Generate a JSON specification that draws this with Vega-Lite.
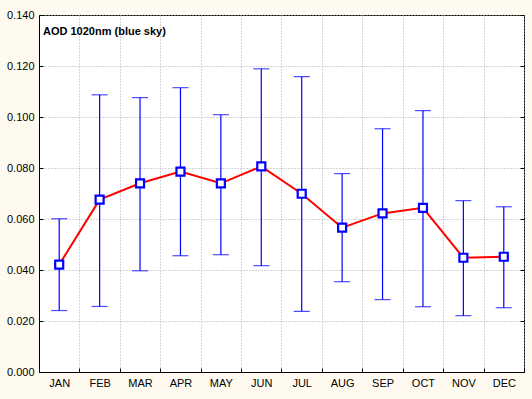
{
  "$schema": "https://vega.github.io/schema/vega-lite/v6.json",
  "width": 485,
  "height": 357,
  "autosize": "none",
  "padding": {"left": 39, "top": 15, "right": 8, "bottom": 27},
  "background": "#FFFAF0",
  "config": {
    "view": {"stroke": "#000000", "strokeWidth": 1, "fill": "#ffffff"},
    "font": "Liberation Sans"
  },
  "title": {
    "text": "AOD 1020nm (blue sky)",
    "anchor": "start",
    "orient": "top",
    "frame": "group",
    "offset": -28,
    "dx": 4,
    "fontSize": 11,
    "font": "Liberation Sans",
    "fontWeight": "bold",
    "color": "#000000"
  },
  "data": {
    "values": [
      {"month": "JAN", "mean": 0.0421, "lo": 0.0241, "hi": 0.0601},
      {"month": "FEB", "mean": 0.0676, "lo": 0.0257, "hi": 0.1087},
      {"month": "MAR", "mean": 0.0740, "lo": 0.0397, "hi": 0.1076},
      {"month": "APR", "mean": 0.0786, "lo": 0.0456, "hi": 0.1115},
      {"month": "MAY", "mean": 0.0740, "lo": 0.0460, "hi": 0.1009},
      {"month": "JUN", "mean": 0.0806, "lo": 0.0417, "hi": 0.1189},
      {"month": "JUL", "mean": 0.0699, "lo": 0.0238, "hi": 0.1158},
      {"month": "AUG", "mean": 0.0566, "lo": 0.0354, "hi": 0.0778},
      {"month": "SEP", "mean": 0.0622, "lo": 0.0284, "hi": 0.0954},
      {"month": "OCT", "mean": 0.0644, "lo": 0.0256, "hi": 0.1025},
      {"month": "NOV", "mean": 0.0448, "lo": 0.0221, "hi": 0.0672},
      {"month": "DEC", "mean": 0.0452, "lo": 0.0252, "hi": 0.0648}
    ]
  },
  "encoding": {
    "x": {
      "field": "month",
      "type": "ordinal",
      "sort": null,
      "scale": {"type": "band", "paddingInner": 0, "paddingOuter": 0},
      "axis": {
        "title": null,
        "labelAngle": 0,
        "labelFontSize": 11,
        "labelColor": "#000000",
        "labelPadding": 9,
        "tickBand": "extent",
        "ticks": true,
        "tickSize": -4,
        "tickColor": "#000000",
        "domain": true,
        "domainColor": "#000000",
        "grid": true,
        "gridColor": "#aaaaaa",
        "gridDash": [1, 2],
        "gridWidth": 1
      }
    }
  },
  "layer": [
    {
      "mark": {"type": "rule", "color": "#0000ff", "strokeWidth": 1.2},
      "encoding": {
        "y": {
          "field": "lo",
          "type": "quantitative",
          "scale": {"domain": [0, 0.14], "nice": false, "zero": true},
          "axis": {
            "orient": "right",
            "title": null,
            "labels": false,
            "grid": false,
            "domain": false,
            "values": [0, 0.02, 0.04, 0.06, 0.08, 0.1, 0.12, 0.14],
            "tickSize": -4,
            "tickColor": "#000000"
          }
        },
        "y2": {"field": "hi"}
      }
    },
    {
      "mark": {"type": "tick", "color": "#0000ff", "size": 16, "thickness": 1.2, "orient": "horizontal"},
      "encoding": {"y": {"field": "lo", "type": "quantitative", "axis": null}}
    },
    {
      "mark": {"type": "tick", "color": "#0000ff", "size": 16, "thickness": 1.2, "orient": "horizontal"},
      "encoding": {"y": {"field": "hi", "type": "quantitative", "axis": null}}
    },
    {
      "mark": {"type": "line", "color": "#ff0000", "strokeWidth": 2},
      "encoding": {"y": {"field": "mean", "type": "quantitative", "axis": null}}
    },
    {
      "mark": {"type": "point", "shape": "square", "size": 64, "filled": true, "fill": "#ffffff", "stroke": "#0000ff", "strokeWidth": 2.2, "opacity": 1},
      "encoding": {
        "y": {
          "field": "mean",
          "type": "quantitative",
          "axis": {
            "title": null,
            "format": ".3f",
            "values": [0, 0.02, 0.04, 0.06, 0.08, 0.1, 0.12, 0.14],
            "labelFontSize": 11,
            "labelColor": "#000000",
            "labelPadding": 9,
            "tickSize": -4,
            "tickColor": "#000000",
            "domainColor": "#000000",
            "grid": true,
            "gridColor": "#aaaaaa",
            "gridDash": [1, 2],
            "gridWidth": 1
          }
        }
      }
    }
  ],
  "resolve": {"axis": {"y": "independent"}}
}
